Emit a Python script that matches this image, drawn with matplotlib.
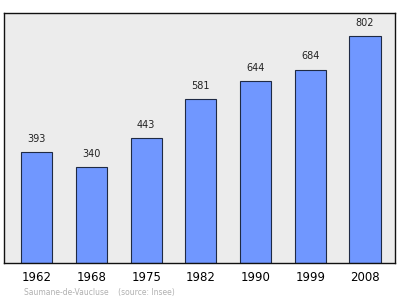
import matplotlib.pyplot as plt

years = ['1962', '1968', '1975', '1982', '1990', '1999', '2008']
population = [393, 340, 443, 581, 644, 684, 802]

fig = plt.figure(figsize=(4, 2.99), dpi=100)
ax = fig.add_axes([0.01, 0.1204, 0.9775, 0.8361])
ax.set_facecolor('#ececec')

x = range(len(years))
ax.bar(x, population, width=0.57, color='#7097ff', edgecolor='#1f2a44', linewidth=0.8)

for i, v in enumerate(population):
    ax.annotate(str(v), (i, v), xytext=(0, 6), textcoords='offset points',
                ha='center', va='bottom', fontsize=7, color='#222222')

ax.set_xlim(-0.6, 6.55)
ax.set_ylim(0, 885)
ax.set_xticks(list(x))
ax.set_xticklabels(years, fontsize=8.5)
ax.set_yticks([])
ax.tick_params(axis='x', length=0, pad=6)
for s in ax.spines.values():
    s.set_linewidth(1)
    s.set_color('#111111')

fig.text(0.06, 0.012, 'Saumane-de-Vaucluse    (source: Insee)', fontsize=5.5, color='#b0b0b0')

fig.savefig('out.png', dpi=100)
